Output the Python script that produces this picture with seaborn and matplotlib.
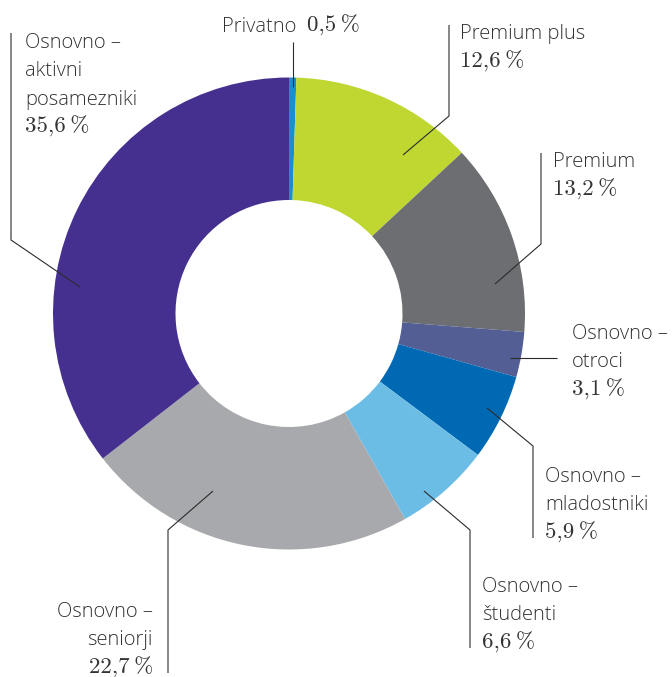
import matplotlib
matplotlib.use("Agg")
import matplotlib.pyplot as plt
import seaborn as sns

# --- Data --------------------------------------------------------------------
# slices clockwise from 12 o'clock
categories = [
    "Privatno",
    "Premium plus",
    "Premium",
    "Osnovno –\notroci",
    "Osnovno –\nmladostniki",
    "Osnovno –\nštudenti",
    "Osnovno –\nseniorji",
    "Osnovno –\naktivni\nposamezniki",
]
shares = [0.5, 12.6, 13.2, 3.1, 5.9, 6.6, 22.7, 35.6]
share_labels = ["0,5\u2009%", "12,6\u2009%", "13,2\u2009%", "3,1\u2009%",
                "5,9\u2009%", "6,6\u2009%", "22,7\u2009%", "35,6\u2009%"]

colors = ["#1B8ECF", "#BFD730", "#6D6E71", "#525E94",
          "#0069B4", "#6CBDE6", "#A7A9AC", "#45308F"]

# --- Layout (pixels of the 672x677 canvas) -----------------------------------
W, H = 672, 677
CX, CY, R = 289, 313.5, 236   # donut centre and outer radius in pixels
HOLE = 113.5 / 236

# leader line vertices, pixel coords
leaders = [
    [(293, 87), (293, 42)],
    [(403, 155), (449, 116), (449, 25)],
    [(495, 284), (541, 244), (541, 153)],
    [(510, 358), (557, 358)],
    [(487, 408), (533, 446), (533, 538)],
    [(424, 491), (470, 530), (470, 648)],
    [(213, 491), (168, 530), (168, 673)],
    [(80, 287), (11, 240), (11, 33)],
]
# label anchor: x, first baseline, alignment
label_pos = [
    (222, 32, "left"),
    (460, 39, "left"),
    (553, 167, "left"),
    (572, 339, "left"),
    (545, 482, "left"),
    (482, 592, "left"),
    (153, 617, "right"),
    (25, 48, "left"),
]
LINE_STEP = 28.3

SANS = ["Open Sans", "DejaVu Sans"]
SERIF = ["cmr10", "DejaVu Serif"]
TEXT_COLOR = "#333333"


def px(x, y):
    # pixel -> data units (outer radius = 1)
    return (x - CX) / R, (CY - y) / R


sns.set_theme(style="white")
plt.rcParams["font.family"] = SANS

fig = plt.figure(figsize=(W / 100, H / 100), dpi=100)
ax = fig.add_axes([0, 0, 1, 1])

ax.pie(shares, colors=sns.color_palette(colors), startangle=90,
       counterclock=False, radius=1.0,
       wedgeprops=dict(width=1 - HOLE, linewidth=0))

ax.set_xlim(px(0, 0)[0], px(W, 0)[0])
ax.set_ylim(px(0, H)[1], px(0, 0)[1])
ax.set_aspect("equal")
ax.axis("off")

for pts in leaders:
    xs, ys = zip(*[px(*p) for p in pts])
    ax.plot(xs, ys, color="#2b2b2b", linewidth=0.8, solid_capstyle="butt")

name_kw = dict(va="baseline", fontsize=14.5, color=TEXT_COLOR,
               family=SANS, weight="light")
pct_kw = dict(va="baseline", fontsize=16.5, color=TEXT_COLOR, family=SERIF)

for name, pct, (lx, ly, ha) in zip(categories, share_labels, label_pos):
    if name == "Privatno":
        # single line: name then share
        ax.text(*px(lx, ly), name, ha="left", **name_kw)
        ax.text(*px(307, ly), pct, ha="left", **pct_kw)
        continue
    lines = name.split("\n")
    for i, line in enumerate(lines):
        ax.text(*px(lx, ly + i * LINE_STEP), line, ha=ha, **name_kw)
    ax.text(*px(lx, ly + len(lines) * LINE_STEP), pct, ha=ha, **pct_kw)

fig.savefig("out.png", dpi=100, facecolor="white")
